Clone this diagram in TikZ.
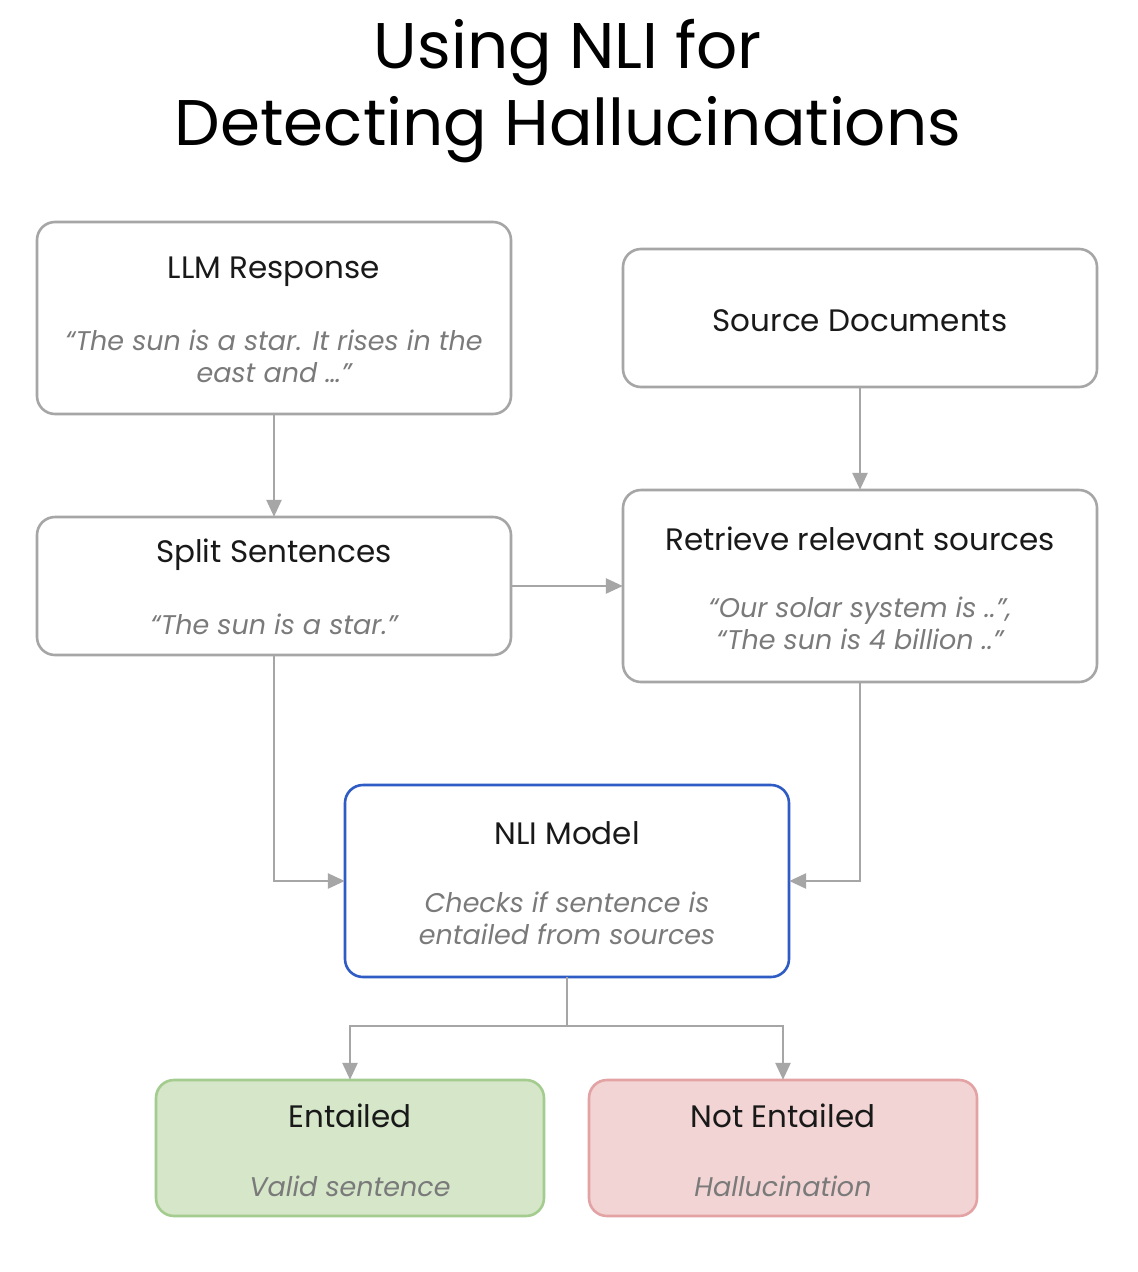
\documentclass[tikz,border=0pt]{standalone}
\usepackage{fontspec}
\setmainfont{Poppins}
\usetikzlibrary{arrows.meta}
\definecolor{edgegray}{HTML}{A6A6A6}
\definecolor{subgray}{HTML}{7A7A7A}
\definecolor{nliblue}{HTML}{2E5BC4}
\definecolor{okfill}{HTML}{D5E6C9}
\definecolor{okdraw}{HTML}{A3CC8E}
\definecolor{badfill}{HTML}{F2D4D4}
\definecolor{baddraw}{HTML}{E3A2A4}
\begin{document}
\begin{tikzpicture}[x=1pt,y=-1pt,
  boxstyle/.style={draw=edgegray, line width=2.6pt, rounded corners=18pt, fill=white},
  headtext/.style={font=\fontsize{31}{36}\selectfont, text=black!90},
  subtext/.style={font=\fontsize{27}{32}\selectfont\itshape, text=subgray, align=center},
  conn/.style={draw=edgegray, line width=2.6pt, -{Triangle[length=17pt,width=15pt]}},
  plain/.style={draw=edgegray, line width=2.6pt}
]
\useasboundingbox (0,0) rectangle (1138,1272);
\fill[white] (0,0) rectangle (1138,1272);

% title
\node[font=\fontsize{64.5}{77}\selectfont, align=center, text=black] (title) at (568,91)
  {Using NLI for\\Detecting Hallucinations};

% boxes
\draw[boxstyle] (37,222) rectangle (511,414);
\node[minimum width=474pt, minimum height=192pt, inner sep=0pt] (llm) at (274,318) {};
\node[headtext] (llmh) at (274,272) {LLM Response};
\node[subtext] (llms) at (274,356) {“The sun is a star. It rises in the\\east and …”};

\draw[boxstyle] (623,249) rectangle (1097,387);
\node[minimum width=474pt, minimum height=138pt, inner sep=0pt] (src) at (860,318) {};
\node[headtext] (srch) at (860,321) {Source Documents};

\draw[boxstyle] (37,517) rectangle (511,655);
\node[minimum width=474pt, minimum height=138pt, inner sep=0pt] (split) at (274,586) {};
\node[headtext] (splith) at (274,555) {Split Sentences};
\node[subtext] (splits) at (274,624) {“The sun is a star.”};

\draw[boxstyle] (623,490) rectangle (1097,682);
\node[minimum width=474pt, minimum height=192pt, inner sep=0pt] (ret) at (860,586) {};
\node[headtext] (reth) at (860,539) {Retrieve relevant sources};
\node[subtext] (rets) at (860,623) {“Our solar system is ..”,\\“The sun is 4 billion ..”};

\draw[boxstyle, draw=nliblue] (345,785) rectangle (789,977);
\node[minimum width=444pt, minimum height=192pt, inner sep=0pt] (nli) at (567,881) {};
\node[headtext] (nlih) at (567,833) {NLI Model};
\node[subtext] (nlis) at (567,918) {Checks if sentence is\\entailed from sources};

\draw[boxstyle, draw=okdraw, fill=okfill] (156,1080) rectangle (544,1216);
\node[minimum width=388pt, minimum height=136pt, inner sep=0pt] (ent) at (350,1148) {};
\node[headtext] (enth) at (350,1116) {Entailed};
\node[subtext] (ents) at (350,1186) {Valid sentence};

\draw[boxstyle, draw=baddraw, fill=badfill] (589,1080) rectangle (977,1216);
\node[minimum width=388pt, minimum height=136pt, inner sep=0pt] (nent) at (783,1148) {};
\node[headtext] (nenth) at (783,1116) {Not Entailed};
\node[subtext] (nents) at (783,1186) {Hallucination};

% connectors
\coordinate (fork) at (567,1026);
\draw[conn] (llm.south) -- (split.north);
\draw[conn] (src.south) -- (ret.north);
\draw[conn] (split.east) -- (ret.west);
\draw[conn] (split.south) |- (nli.west);
\draw[conn] (ret.south) |- (nli.east);
\draw[plain] (nli.south) -- (fork);
\draw[conn] (fork) -| (ent.north);
\draw[conn] (fork) -| (nent.north);
\end{tikzpicture}
\end{document}
